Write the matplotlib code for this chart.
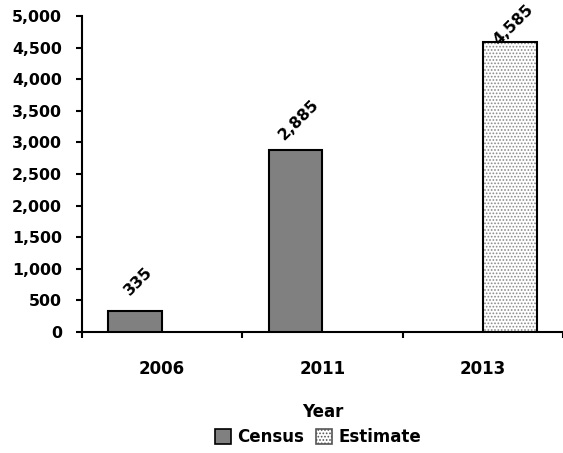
import matplotlib
matplotlib.use("Agg")
import matplotlib.pyplot as plt
from matplotlib.patches import Patch
import numpy as np

plt.rcParams['font.family'] = ['DejaVu Sans']
plt.rcParams['font.weight'] = 'bold'
plt.rcParams['hatch.linewidth'] = 0.8

years = ["2006", "2011", "2013"]
census = [335, 2885, None]
estimate = [None, None, 4585]
yticks = [0, 500, 1000, 1500, 2000, 2500, 3000, 3500, 4000, 4500, 5000]

fig = plt.figure(figsize=(5.63, 4.53), dpi=100)
ax = fig.add_axes([0.1456, 0.267, 0.8544, 0.6977])

x = np.arange(len(years))
w = 0.336
off = 0.168
ymax = 5000


def label(xc, v):
    ypos = min(v + 475, ymax - 142)
    ax.text(xc + 0.02, ypos, f"{v:,}", rotation=45, ha='center', va='center',
            fontsize=11.3, fontweight='bold', rotation_mode='anchor', zorder=6, clip_on=False)


for i, v in enumerate(census):
    if v is None:
        continue
    ax.bar(x[i] - off, v, width=w, color='#808080', edgecolor='black', linewidth=1.5, zorder=3)
    label(x[i] - off, v)

for i, v in enumerate(estimate):
    if v is None:
        continue
    ax.bar(x[i] + off, v, width=w, color='white', edgecolor='#8a8a8a', hatch='.....', linewidth=0, zorder=3)
    ax.bar(x[i] + off, v, width=w, fill=False, edgecolor='black', linewidth=1.5, zorder=4)
    label(x[i] + off, v)

ax.set_xlim(-0.5, len(years) - 0.5)
ax.set_ylim(0, ymax)
ax.set_yticks(yticks)
ax.set_yticklabels([f"{t:,}" for t in yticks], fontsize=11.3, fontweight='bold')
ax.set_xticks(x)
ax.set_xticklabels(years, fontsize=12, fontweight='bold')
ax.tick_params(axis='x', which='major', length=0, pad=20)
ax.set_xticks(np.arange(-0.5, len(years)), minor=True)
ax.tick_params(axis='x', which='minor', length=4.3, width=1.5, direction='out')
ax.tick_params(axis='y', length=4.3, width=1.5, direction='out', pad=10)

for s in ['top', 'right']:
    ax.spines[s].set_visible(False)
for s in ['left', 'bottom']:
    ax.spines[s].set_linewidth(1.5)

ax.set_xlabel("Year", fontsize=12, fontweight='bold', labelpad=18)

handles = [Patch(facecolor='#808080', edgecolor='black', linewidth=1.2, label='Census'),
           Patch(facecolor='white', edgecolor='#555555', hatch='.....', linewidth=1.2, label='Estimate')]
leg = fig.legend(handles=handles, loc='center', bbox_to_anchor=(0.565, 0.035), ncol=2, frameon=False,
                 handlelength=0.95, handleheight=0.95, handletextpad=0.4, columnspacing=0.7,
                 prop={'weight': 'bold', 'size': 12})

fig.savefig("out.png", dpi=100)
